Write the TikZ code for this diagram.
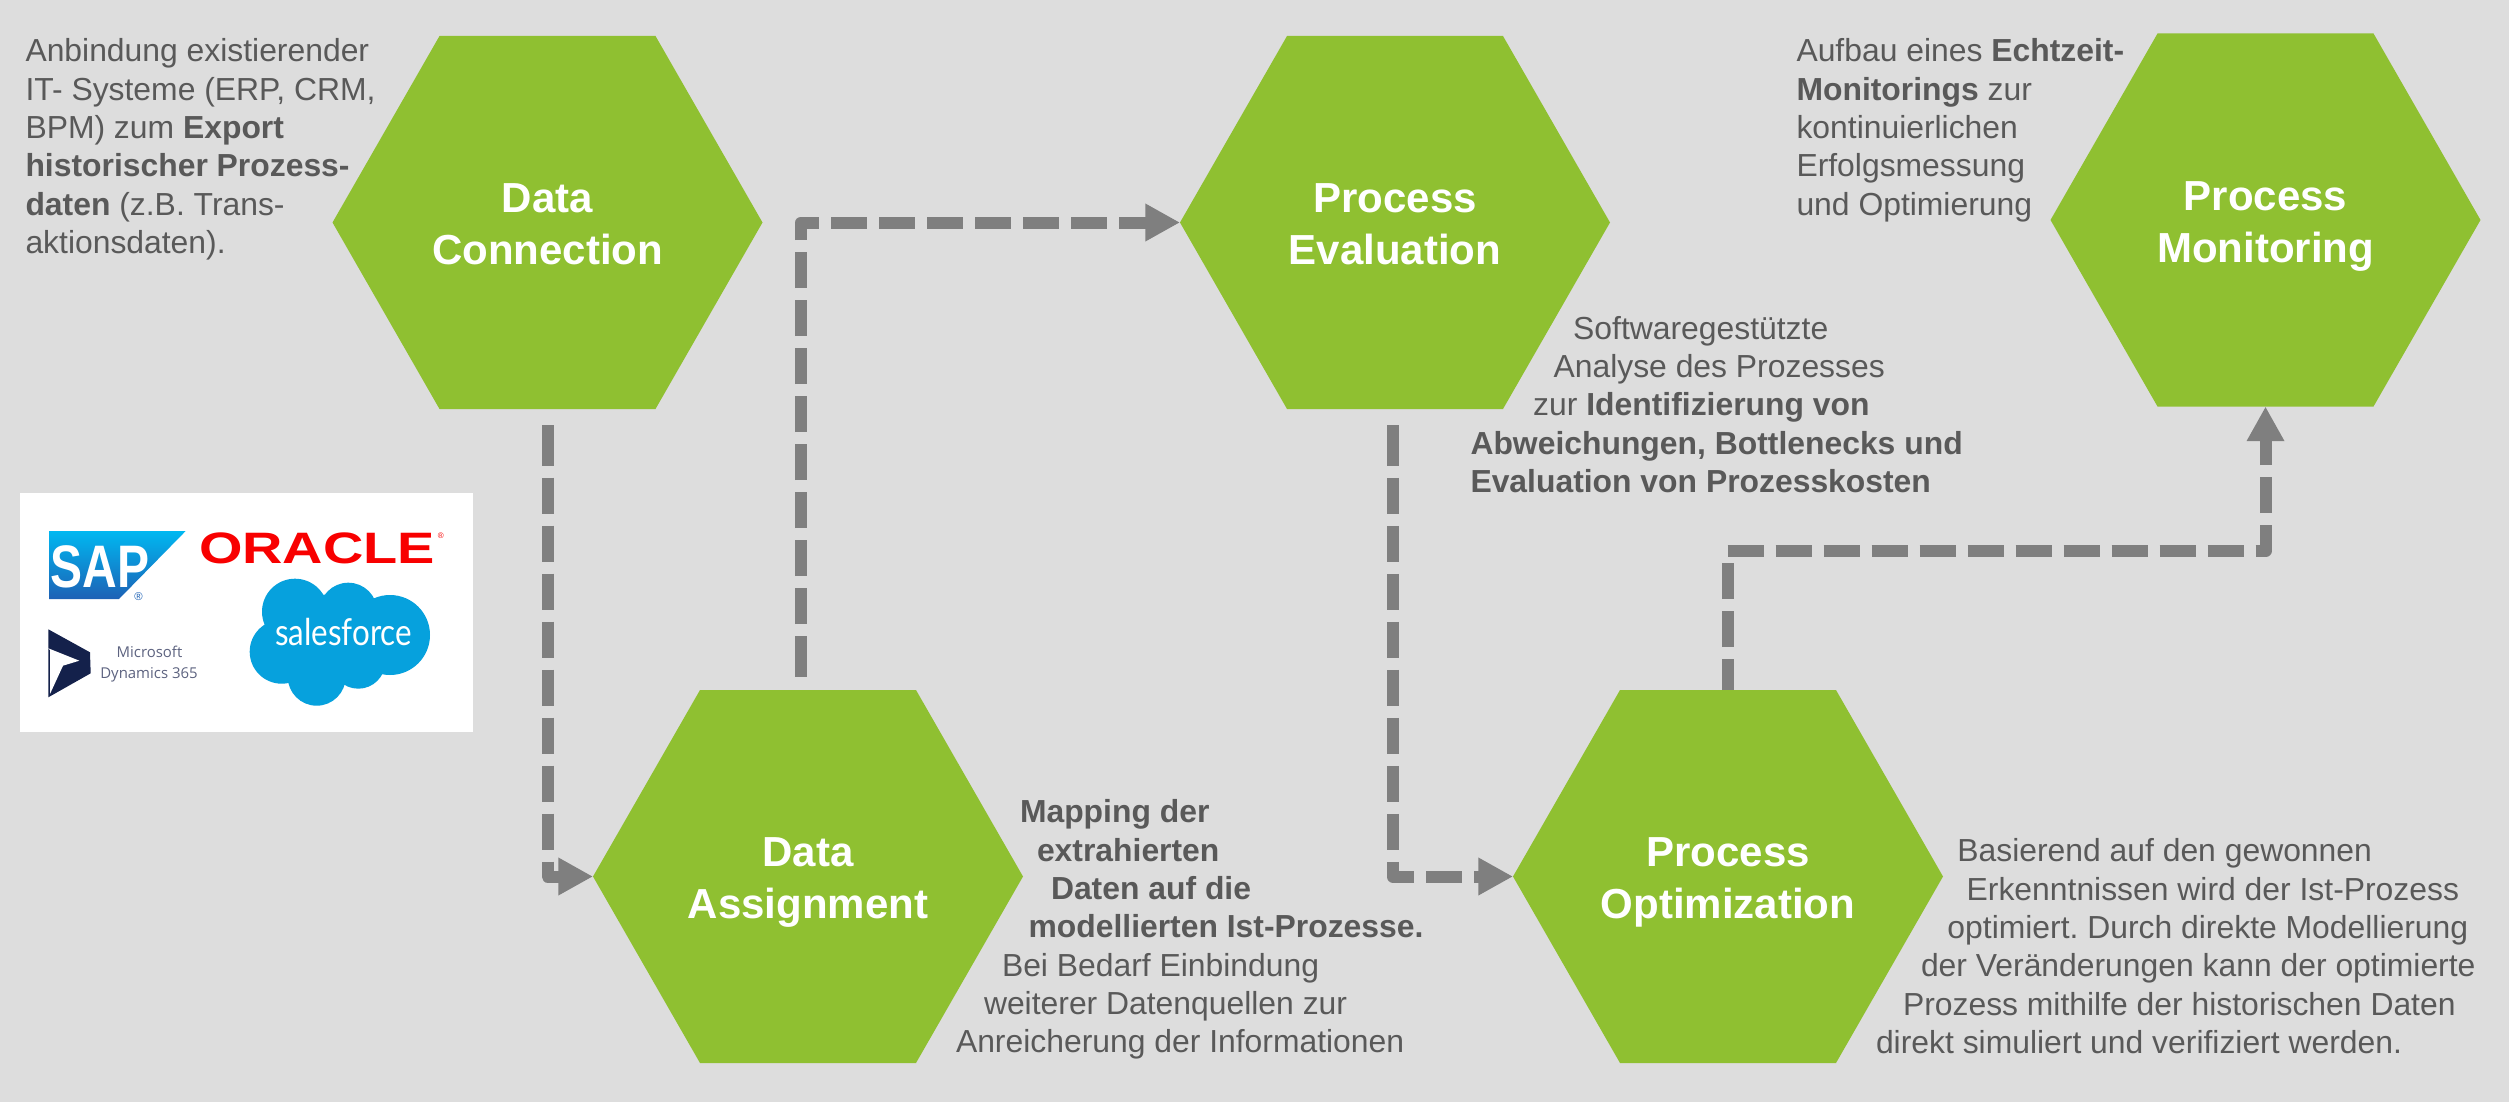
\documentclass[tikz,border=0pt]{standalone}
\usepackage{fontspec}
\usepackage{graphicx}
\setmainfont{Liberation Sans}
\newfontfamily\opensansfont{Open Sans}
\newfontfamily\latofont{Lato}
\usetikzlibrary{arrows.meta,calc}
\frenchspacing
\definecolor{bgcol}{HTML}{DDDDDD}
\definecolor{hexgreen}{HTML}{8FC031}
\definecolor{flowgray}{HTML}{7F7F7F}
\definecolor{bodytext}{HTML}{595959}
\definecolor{sapa}{HTML}{00B8F1}
\definecolor{sapb}{HTML}{1D61B5}
\definecolor{oraclered}{HTML}{F80000}
\definecolor{sfblue}{HTML}{06A1DD}
\definecolor{dynnavy}{HTML}{14214B}
\definecolor{dyntext}{HTML}{5D6380}
\newcommand{\firstline}{\rule{0pt}{20pt}}
\newcommand{\ttl}[2]{\rule[-0pt]{0pt}{31.5pt}#1\\\rule[-7.5pt]{0pt}{7.5pt}#2}
\tikzset{
  x=0.75pt,y=-0.75pt,
  hexnode/.style={minimum width=322.5pt,minimum height=279.75pt,inner sep=0pt,outer sep=0pt,
    text=white,align=center,font=\fontsize{31.5pt}{39pt}\selectfont\bfseries,
    path picture={\fill[hexgreen]
      (path picture bounding box.west)
      -- ([xshift=80.25pt]path picture bounding box.north west)
      -- ([xshift=-80.25pt]path picture bounding box.north east)
      -- (path picture bounding box.east)
      -- ([xshift=-80.25pt]path picture bounding box.south east)
      -- ([xshift=80.25pt]path picture bounding box.south west)
      -- cycle;}},
  para/.style={anchor=north west,inner sep=0pt,outer sep=0pt,align=left,text=bodytext,
    font=\fontsize{23.9pt}{28.75pt}\selectfont},
  flow/.style={draw=flowgray,line width=9pt,line join=round,
    dash pattern=on 27pt off 9pt,
    -{Triangle[width=26.5pt,length=26pt]},flowgray},
  stub/.style={{Rectangle[width=9pt,length=4.5pt]}-{Triangle[width=26.5pt,length=26pt]}},
  logotext/.style={inner sep=0pt,outer sep=0pt},
}
\begin{document}
\begin{tikzpicture}
\useasboundingbox (0,0) rectangle (2509,1102);
\fill[bgcol] (0,0) rectangle (2509,1102);

% hexagons
\node[hexnode] (dc) at (547.5,222.5) {\ttl{Data}{Connection}};
\node[hexnode] (da) at (808,876.5) {\ttl{Data}{Assignment}};
\node[hexnode] (pe) at (1395,222.5) {\ttl{Process}{Evaluation}};
\node[hexnode] (po) at (1728,876.5) {\ttl{Process}{Optimization}};
\node[hexnode] (pm) at (2265.5,220) {\ttl{Process}{Monitoring}};

% connectors
\draw[flow,stub] ([yshift=-12pt]dc.south) |- (da.west);
\draw[flow,stub] ([shift={(-7,-13.3)}]da.north) |- (pe.west);
\draw[flow,stub] ([shift={(-2.3,16.4)}]pe.south) |- (po.west);
\draw[flow,dash phase=3.75pt] ([xshift=-0.375pt]po.north) -- ++(0,-139) -| (pm.south);

% descriptive texts
\node[para] (tdc) at (25.5,35.3) {\firstline Anbindung existierender\\
IT- Systeme (ERP, CRM,\\
BPM) zum \textbf{Export}\\
\textbf{historischer Prozess-}\\
\textbf{daten} (z.B. Trans-\\
aktionsdaten).};
\node[para] (tda) at (956,796.3) {\hspace*{48pt}\firstline\textbf{Mapping der}\\
\hspace*{60.75pt}\textbf{extrahierten}\\
\hspace*{71.25pt}\textbf{Daten auf die}\\
\hspace*{54.4pt}\textbf{modellierten Ist-Prozesse.}\\
\hspace*{34.5pt}Bei Bedarf Einbindung\\
\hspace*{21pt}weiterer Datenquellen zur\\
Anreicherung der Informationen};
\node[para] (tpe) at (1470.5,312.6) {\hspace*{77pt}\firstline Softwaregestützte\\
\hspace*{62.3pt}Analyse des Prozesses\\
\hspace*{47pt}zur \textbf{Identifizierung von}\\
\textbf{Abweichungen, Bottlenecks und}\\
\textbf{Evaluation von Prozesskosten}};
\node[para] (tpm) at (1796.5,35) {\firstline Aufbau eines \textbf{Echtzeit-}\\
\textbf{Monitorings} zur\\
kontinuierlichen\\
Erfolgsmessung\\
und Optimierung};
\node[para] (tpo) at (1876,835) {\hspace*{61pt}\firstline Basierend auf den gewonnen\\
\hspace*{68pt}Erkenntnissen wird der Ist-Prozess\\
\hspace*{53.6pt}optimiert. Durch direkte Modellierung\\
\hspace*{33.75pt}der Veränderungen kann der optimierte\\
\hspace*{20.25pt}Prozess mithilfe der historischen Daten\\
direkt simuliert und verifiziert werden.};

% logo panel
\fill[white] (20,493) rectangle (473,732);
% SAP
\shade[top color=sapa,bottom color=sapb] (49,531) -- (185.7,531) -- (119,599) -- (49,599) -- cycle;
\node[logotext,text=white,anchor=base] (sap) at (100,587) {\fontsize{45pt}{45pt}\selectfont\bfseries\scalebox{0.8}[1]{SAP}};
\node[logotext,text=sapb,anchor=center] (sapr) at (138.5,596.5) {\fontsize{8.5pt}{9pt}\selectfont ®};
% Oracle
\node[logotext,text=oraclered,anchor=base] (oracle) at (317,563.3) {\fontsize{33pt}{33pt}\selectfont\bfseries\scalebox{1.27}[1]{ORACLE}};
\node[logotext,text=oraclered,anchor=center] (oracler) at (440.7,535.7) {\fontsize{6pt}{6pt}\selectfont ®};
% Salesforce
\fill[sfblue] (295,611.7) circle[radius=33] (348.3,611.7) circle[radius=29]
  (390,635) circle[radius=40] (281.7,651.7) circle[radius=32]
  (316.7,676.7) circle[radius=29] (358.3,661.7) circle[radius=27]
  (333.3,636.7) circle[radius=43];
\node[logotext,text=white,anchor=base] (sf) at (343.5,645.7) {\scalebox{1}[1.18]{\resizebox{102.75pt}{!}{\latofont salesforce}}};
% Dynamics
\fill[dynnavy] (48.3,629.3) -- (90,652.3) -- (90.7,673.3) -- (48.3,697.3) -- cycle;
\fill[white] (48.3,648.3) -- (79.3,660.7) -- (63,665.7) -- (50,694) -- (50,650) -- cycle;
\node[logotext,text=dyntext,anchor=base] (ms) at (149.5,657.7) {\opensansfont\fontsize{11.2pt}{14pt}\selectfont Microsoft};
\node[logotext,text=dyntext,anchor=base] (dyn) at (149,678) {\opensansfont\fontsize{11.2pt}{14pt}\selectfont Dynamics 365};
\end{tikzpicture}
\end{document}
